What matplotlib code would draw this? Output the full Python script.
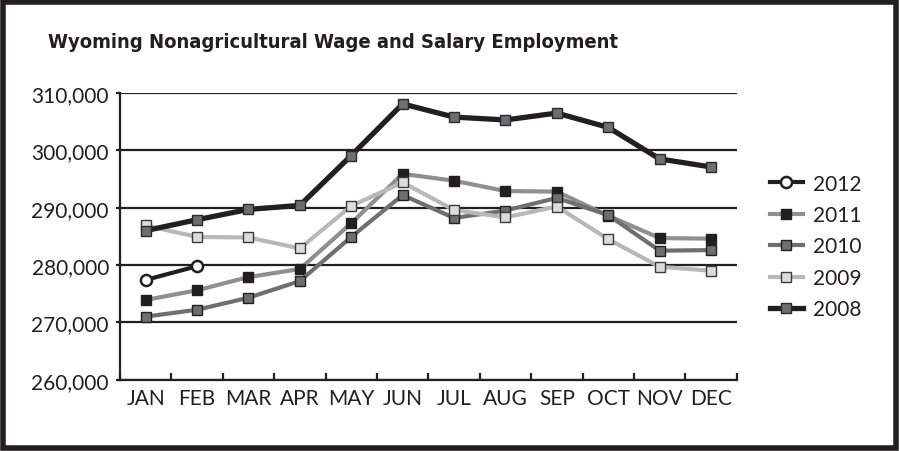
import matplotlib
matplotlib.use("Agg")
import matplotlib.pyplot as plt
from matplotlib.patches import Rectangle

months = ["JAN", "FEB", "MAR", "APR", "MAY", "JUN", "JUL", "AUG", "SEP", "OCT", "NOV", "DEC"]
y2012 = [277400, 279800]
y2011 = [273900, 275600, 277900, 279300, 287300, 295900, 294700, 292900, 292800, 288600, 284700, 284600]
y2010 = [271000, 272200, 274300, 277200, 284900, 292200, 288200, 289500, 291700, 288700, 282500, 282600]
y2009 = [286900, 284900, 284800, 282900, 290300, 294400, 289600, 288300, 290200, 284500, 279700, 279000]
y2008 = [286000, 287900, 289700, 290400, 299100, 308100, 305800, 305300, 306500, 304000, 298500, 297100]
yticks = [260000, 270000, 280000, 290000, 300000, 310000]
title = "Wyoming Nonagricultural Wage and Salary Employment"

BLACK = "#231f20"
plt.rcParams['font.family'] = ['Lato', 'DejaVu Sans']

fig = plt.figure(figsize=(9, 4.52), dpi=100)
ax = fig.add_axes([120/900, 1-380.7/452, (736.7-120)/900, (380.7-94)/452])

x = list(range(len(months)))

for v in yticks:
    ax.axhline(v, color=BLACK, lw=1.6, zorder=1)

def plot(vals, lc, lw, mfc, mec, marker, ms, z, label):
    xs = x[:len(vals)]
    return ax.plot(xs, vals, color=lc, lw=lw, marker=marker, ms=ms, mfc=mfc,
                   mec=mec, mew=1.0, zorder=z, label=label,
                   solid_joinstyle='round')[0]

h2011 = plot(y2011, "#8f8f8f", 3.0, BLACK, BLACK, "s", 6.8, 3, "2011")
h2010 = plot(y2010, "#6f6f6f", 3.0, "#6d6e71", BLACK, "s", 6.8, 4, "2010")
h2009 = plot(y2009, "#b8b8b8", 3.0, "#dcdcdc", "#3a3a3a", "s", 6.8, 5, "2009")
h2008 = plot(y2008, BLACK, 3.8, "#6d6e71", "#2a2a2a", "s", 6.8, 6, "2008")
h2012 = plot(y2012, BLACK, 3.0, "white", BLACK, "o", 8, 7, "2012")
h2012.set_mew(1.8)

ax.set_xlim(-0.5, 11.5)
ax.set_ylim(260000, 310000)
ax.set_yticks(yticks)
ax.set_yticklabels([f"{v:,}" for v in yticks])
ax.set_xticks(x)
ax.set_xticklabels(months)
ax.set_xticks([i - 0.5 for i in range(13)], minor=True)
ax.tick_params(axis='x', which='major', length=0, pad=6, labelsize=15, colors=BLACK)
ax.tick_params(axis='x', which='minor', direction='in', length=5, width=1.6, color=BLACK)
ax.tick_params(axis='y', direction='out', length=3, width=1.6, pad=5, labelsize=15, colors=BLACK)
for s in ['top', 'right']:
    ax.spines[s].set_visible(False)
for s in ['left', 'bottom']:
    ax.spines[s].set_color(BLACK)
    ax.spines[s].set_linewidth(1.6)

leg = fig.legend(handles=[h2012, h2011, h2010, h2009, h2008],
                 labels=["2012", "2011", "2010", "2009", "2008"],
                 loc='upper left', bbox_to_anchor=(755/900, 1-160/452),
                 frameon=False, fontsize=15, handlelength=1.6,
                 labelspacing=0.55, handletextpad=0.5, borderpad=0.2)
for t in leg.get_texts():
    t.set_color(BLACK)

tt = fig.text(48/900, 1-42/452, title, fontsize=16, fontweight='bold',
              family=['Liberation Sans Narrow', 'DejaVu Sans'], color=BLACK,
              ha='left', va='center', fontstretch='condensed')
fig.canvas.draw()
w = tt.get_window_extent().width
tt.set_fontsize(16 * 574 / w)

fig.patches.append(Rectangle((0.003, 0.006), 0.992, 0.988, transform=fig.transFigure,
                             fill=False, lw=4, edgecolor=BLACK, zorder=10))

fig.savefig("out.png", dpi=100)
